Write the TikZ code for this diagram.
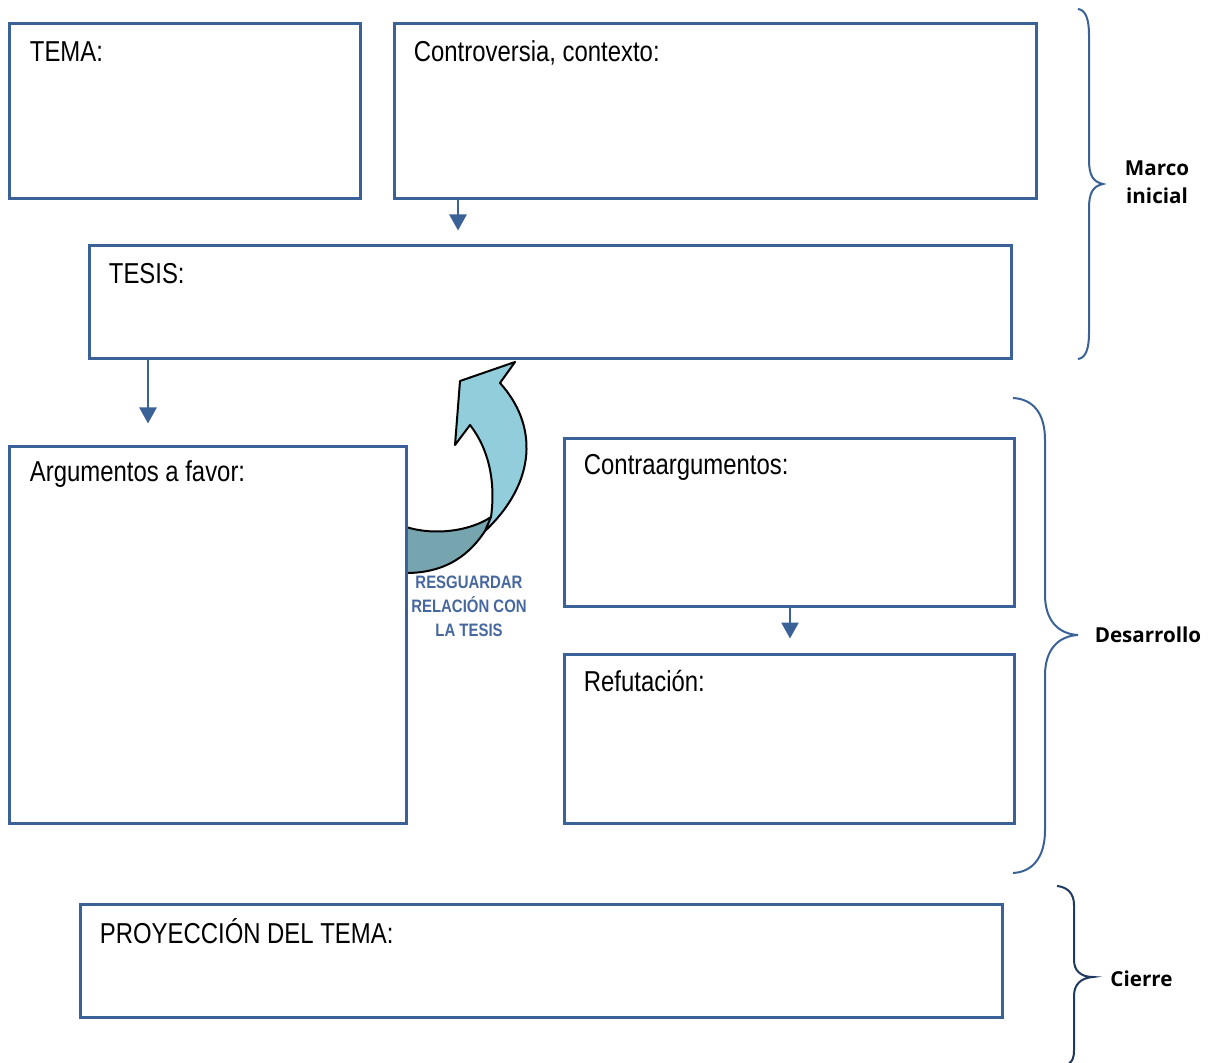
\documentclass[tikz,border=0pt]{standalone}
\usepackage{fontspec}
\setmainfont{Liberation Sans}[FakeStretch=0.83]
\newfontfamily\lblfont{Open Sans}
\usetikzlibrary{fit,calc,arrows.meta}
\definecolor{boxblue}{RGB}{58,98,150}
\definecolor{navyblue}{RGB}{31,58,96}
\definecolor{lightarrow}{RGB}{146,205,220}
\definecolor{darkarrow}{RGB}{118,165,175}
\definecolor{txtblue}{RGB}{70,104,158}
\begin{document}
\begin{tikzpicture}[x=0.5pt,y=-0.5pt,
  box/.style={draw=boxblue,line width=1.5pt,inner sep=0pt,rectangle},
  boxtxt/.style={anchor=base west,inner sep=0pt,font=\fontsize{14.4}{17}\selectfont},
  conn/.style={draw=boxblue,line width=1.3pt,-{Triangle[width=8.5pt,length=8pt]}},
  bracelin/.style={draw=boxblue,line width=1pt},
  bracelbl/.style={inner sep=0pt,align=center,font=\lblfont\bfseries\fontsize{10.3}{14}\selectfont},
  curvout/.style={draw=black,line width=1pt,line join=round}]
\useasboundingbox (0,0) rectangle (1213,1063);

% curved arrow (drawn first, box border covers its left edge)
\fill[darkarrow] (406,527) .. controls (435,536) and (470,531) .. (491,517)
  -- (485,531) .. controls (466,560) and (440,573) .. (406,573) -- cycle;
\draw[curvout] (406,527) .. controls (435,536) and (470,531) .. (491,517);
\draw[curvout] (485,531) .. controls (466,560) and (440,573) .. (406,573);
\draw[curvout,fill=lightarrow] (491,517) .. controls (496,480) and (488,448) .. (470,425)
  -- (455,445) -- (460,381) -- (515,362) -- (500,383)
  .. controls (538,425) and (537,482) .. (485,531) -- cycle;

% boxes
\node[box,fit={(9,24) (360,199)}] (tema) {};
\node[box,fit={(394,24) (1036,199)}] (contro) {};
\node[box,fit={(89,246) (1011,359)}] (tesis) {};
\node[box,fit={(9,446) (406,823)}] (argum) {};
\node[box,fit={(564,438) (1014,606)}] (contra) {};
\node[box,fit={(564,654) (1014,823)}] (refut) {};
\node[box,fit={(80,904) (1002,1017)}] (proy) {};

% box texts
\node[boxtxt] (tematxt) at ($(tema.north west)+(22,39)$) {TEMA:};
\node[boxtxt] (controtxt) at ($(contro.north west)+(21,39)$) {Controversia, contexto:};
\node[boxtxt] (tesistxt) at ($(tesis.north west)+(21,39)$) {TESIS:};
\node[boxtxt] (argumtxt) at ($(argum.north west)+(22,37)$) {Argumentos a favor:};
\node[boxtxt] (contratxt) at ($(contra.north west)+(21,38)$) {Contraargumentos:};
\node[boxtxt] (refuttxt) at ($(refut.north west)+(21,39)$) {Refutación:};
\node[boxtxt] (proytxt) at ($(proy.north west)+(21,41)$) {PROYECCIÓN DEL TEMA:};

% connectors
\coordinate (xa) at (458,0);
\coordinate (xb) at (148,0);
\coordinate (xc) at (790,0);
\draw[conn,shorten >=7pt] (contro.south -| xa) -- (tesis.north -| xa);
\draw[conn,shorten >=10.5pt] (tesis.south -| xb) -- (argum.north -| xb);
\draw[conn,shorten >=7pt] (contra.south -| xc) -- (refut.north -| xc);

% arrow caption
\node[inner sep=0pt,align=center,text=txtblue,
  font=\bfseries\fontsize{9}{12}\selectfont] (resg) at (469,606)
  {RESGUARDAR\\RELACIÓN CON\\LA TESIS};

% braces
\draw[bracelin] (1078,9) .. controls (1086,10) and (1089,20) .. (1089,35) -- (1089,160)
  .. controls (1089,175) and (1093,182) .. (1103,184)
  .. controls (1093,186) and (1089,193) .. (1089,208) -- (1089,333)
  .. controls (1089,348) and (1086,358) .. (1078,359);
\draw[bracelin] (1013,398) .. controls (1032,399) and (1045,412) .. (1045,440) -- (1045,595)
  .. controls (1045,620) and (1058,634) .. (1078,635)
  .. controls (1058,636) and (1045,650) .. (1045,675) -- (1045,830)
  .. controls (1045,858) and (1032,872) .. (1013,873);
\draw[bracelin,draw=navyblue] (1057,886) .. controls (1067,887) and (1074,893) .. (1074,905) -- (1074,960)
  .. controls (1074,970) and (1080,977) .. (1093,977)
  .. controls (1080,978) and (1074,985) .. (1074,996) -- (1074,1050)
  .. controls (1074,1058) and (1072,1062) .. (1069,1063);

\node[bracelbl] (marco) at (1157,182) {Marco\\inicial};
\node[bracelbl,anchor=base] (desa) at (1148,642) {Desarrollo};
\node[bracelbl,anchor=base] (cierre) at (1141.5,986) {Cierre};
\end{tikzpicture}
\end{document}
